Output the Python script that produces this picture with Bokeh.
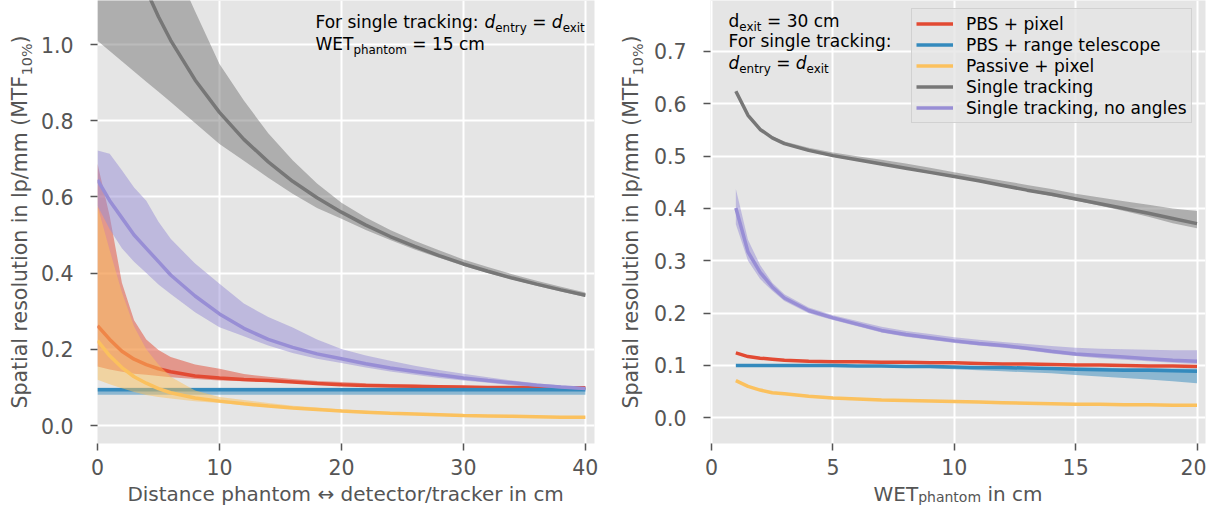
import math
from bokeh.plotting import figure
from bokeh.models import Range1d, FixedTicker, PrintfTickFormatter, Label, Legend, LegendItem
from bokeh.layouts import row, column
from bokeh.embed import file_html
from bokeh.resources import INLINE

# ---------------- data: left panel (distance phantom <-> detector/tracker) ----------------
dist_cm = [0, 1, 2, 3, 4, 5, 6, 8, 10, 12, 14, 16, 18, 20, 22, 24, 26, 28, 30, 32, 34, 36, 38, 40]

L_pbs_pixel = [0.262, 0.226, 0.195, 0.174, 0.160, 0.149, 0.141, 0.130, 0.125, 0.121, 0.118, 0.114,
               0.110, 0.107, 0.105, 0.104, 0.103, 0.102, 0.101, 0.100, 0.100, 0.100, 0.099, 0.099]
L_pbs_pixel_hi = [0.687, 0.550, 0.375, 0.276, 0.226, 0.198, 0.180, 0.160, 0.149, 0.135, 0.128, 0.122,
                  0.117, 0.114, 0.111, 0.109, 0.107, 0.105, 0.104, 0.103, 0.102, 0.102, 0.101, 0.101]
L_pbs_pixel_lo = [0.155, 0.147, 0.141, 0.136, 0.133, 0.130, 0.127, 0.122, 0.118, 0.116, 0.114, 0.112,
                  0.108, 0.105, 0.103, 0.102, 0.101, 0.100, 0.099, 0.098, 0.098, 0.098, 0.097, 0.097]

L_pbs_range = [0.094] * 24
L_pbs_range_hi = [0.099] * 24
L_pbs_range_lo = [0.081] * 24

L_passive = [0.223, 0.183, 0.152, 0.128, 0.111, 0.097, 0.086, 0.072, 0.064, 0.057, 0.051, 0.046,
             0.042, 0.038, 0.035, 0.032, 0.030, 0.028, 0.026, 0.025, 0.024, 0.023, 0.022, 0.022]
L_passive_hi = [0.577, 0.460, 0.350, 0.260, 0.200, 0.160, 0.128, 0.092, 0.075, 0.067, 0.059, 0.052,
                0.047, 0.042, 0.039, 0.035, 0.033, 0.031, 0.028, 0.027, 0.026, 0.025, 0.024, 0.023]
L_passive_lo = [0.120, 0.108, 0.098, 0.088, 0.080, 0.075, 0.071, 0.064, 0.059, 0.054, 0.049, 0.044,
                0.040, 0.036, 0.033, 0.031, 0.029, 0.027, 0.025, 0.024, 0.023, 0.022, 0.021, 0.021]

L_single = [1.546, 1.420, 1.314, 1.222, 1.143, 1.073, 1.011, 0.907, 0.822, 0.751, 0.692, 0.641,
            0.598, 0.560, 0.526, 0.496, 0.470, 0.446, 0.424, 0.405, 0.387, 0.371, 0.356, 0.342]
L_single_hi = [2.050, 1.840, 1.670, 1.530, 1.430, 1.320, 1.230, 1.087, 0.949, 0.853, 0.767, 0.696,
               0.635, 0.585, 0.546, 0.513, 0.485, 0.460, 0.436, 0.416, 0.397, 0.380, 0.364, 0.349]
L_single_lo = [1.010, 0.983, 0.956, 0.929, 0.902, 0.876, 0.849, 0.794, 0.739, 0.695, 0.650, 0.608,
               0.571, 0.543, 0.513, 0.487, 0.462, 0.440, 0.419, 0.400, 0.383, 0.367, 0.352, 0.337]

L_noang = [0.645, 0.590, 0.545, 0.500, 0.465, 0.430, 0.395, 0.340, 0.293, 0.255, 0.226, 0.205,
           0.188, 0.175, 0.162, 0.151, 0.142, 0.133, 0.125, 0.118, 0.112, 0.106, 0.101, 0.097]
L_noang_hi = [0.722, 0.713, 0.670, 0.625, 0.590, 0.535, 0.490, 0.425, 0.372, 0.320, 0.285, 0.257,
              0.226, 0.201, 0.184, 0.170, 0.157, 0.146, 0.136, 0.127, 0.118, 0.111, 0.105, 0.100]
L_noang_lo = [0.577, 0.515, 0.465, 0.430, 0.400, 0.370, 0.345, 0.297, 0.258, 0.234, 0.210, 0.190,
              0.175, 0.164, 0.152, 0.142, 0.133, 0.125, 0.118, 0.112, 0.106, 0.101, 0.097, 0.094]

# ---------------- data: right panel (WET phantom) ----------------
wet_cm = [1, 1.5, 2, 2.5, 3, 4, 5, 6, 7, 8, 9, 10, 11, 12, 13, 14, 15, 16, 17, 18, 19, 20]

R_pbs_pixel = [0.124, 0.117, 0.114, 0.112, 0.110, 0.108, 0.107, 0.107, 0.106, 0.106, 0.105,
               0.105, 0.104, 0.103, 0.103, 0.102, 0.101, 0.101, 0.100, 0.099, 0.099, 0.098]
R_pbs_pixel_hi = [0.125, 0.118, 0.115, 0.113, 0.111, 0.109, 0.108, 0.108, 0.107, 0.107, 0.106,
                  0.106, 0.105, 0.104, 0.104, 0.103, 0.102, 0.102, 0.101, 0.100, 0.100, 0.099]
R_pbs_pixel_lo = [0.123, 0.116, 0.113, 0.111, 0.109, 0.107, 0.106, 0.106, 0.105, 0.105, 0.104,
                  0.104, 0.103, 0.102, 0.102, 0.101, 0.100, 0.100, 0.099, 0.098, 0.098, 0.097]

R_pbs_range = [0.100, 0.100, 0.100, 0.100, 0.100, 0.100, 0.100, 0.099, 0.099, 0.098, 0.098,
               0.097, 0.096, 0.096, 0.095, 0.094, 0.093, 0.092, 0.091, 0.091, 0.090, 0.089]
R_pbs_range_hi = [0.101, 0.101, 0.101, 0.101, 0.101, 0.101, 0.101, 0.100, 0.100, 0.099, 0.099,
                  0.098, 0.098, 0.098, 0.097, 0.097, 0.096, 0.096, 0.095, 0.095, 0.094, 0.094]
R_pbs_range_lo = [0.099, 0.099, 0.099, 0.099, 0.099, 0.099, 0.099, 0.098, 0.098, 0.096, 0.095,
                  0.093, 0.091, 0.089, 0.087, 0.085, 0.082, 0.079, 0.076, 0.073, 0.070, 0.066]

R_passive = [0.071, 0.060, 0.053, 0.048, 0.046, 0.041, 0.038, 0.036, 0.034, 0.033, 0.032,
             0.031, 0.030, 0.029, 0.028, 0.027, 0.026, 0.026, 0.025, 0.025, 0.024, 0.024]
R_passive_hi = [0.072, 0.061, 0.054, 0.049, 0.047, 0.042, 0.039, 0.037, 0.035, 0.034, 0.033,
                0.032, 0.031, 0.030, 0.029, 0.028, 0.027, 0.027, 0.026, 0.026, 0.025, 0.025]
R_passive_lo = [0.070, 0.059, 0.052, 0.047, 0.045, 0.040, 0.037, 0.035, 0.033, 0.032, 0.031,
                0.030, 0.029, 0.028, 0.027, 0.026, 0.025, 0.025, 0.024, 0.024, 0.023, 0.023]

R_single = [0.624, 0.578, 0.551, 0.535, 0.524, 0.511, 0.501, 0.493, 0.485, 0.477, 0.469,
            0.461, 0.453, 0.444, 0.435, 0.427, 0.418, 0.409, 0.400, 0.391, 0.381, 0.371]
R_single_hi = [0.626, 0.580, 0.553, 0.538, 0.528, 0.516, 0.507, 0.500, 0.493, 0.486, 0.478,
               0.469, 0.461, 0.453, 0.445, 0.437, 0.428, 0.421, 0.414, 0.407, 0.400, 0.395]
R_single_lo = [0.622, 0.576, 0.549, 0.533, 0.522, 0.509, 0.499, 0.491, 0.483, 0.475, 0.467,
               0.459, 0.451, 0.442, 0.433, 0.424, 0.415, 0.405, 0.395, 0.384, 0.372, 0.362]

R_noang = [0.401, 0.317, 0.278, 0.250, 0.229, 0.205, 0.191, 0.179, 0.167, 0.159, 0.153,
           0.147, 0.142, 0.138, 0.133, 0.127, 0.122, 0.119, 0.116, 0.113, 0.110, 0.108]
R_noang_hi = [0.437, 0.340, 0.292, 0.258, 0.236, 0.211, 0.196, 0.185, 0.174, 0.166, 0.160,
              0.154, 0.149, 0.145, 0.141, 0.137, 0.134, 0.132, 0.131, 0.130, 0.129, 0.129]
R_noang_lo = [0.370, 0.300, 0.265, 0.243, 0.223, 0.200, 0.187, 0.175, 0.163, 0.155, 0.149,
              0.143, 0.138, 0.134, 0.129, 0.123, 0.118, 0.114, 0.111, 0.108, 0.105, 0.103]

series_names = ["PBS + pixel", "PBS + range telescope", "Passive + pixel",
                "Single tracking", "Single tracking, no angles"]
series_colors = ["#E24A33", "#348ABD", "#FBC15E", "#777777", "#988ED5"]

left_x_ticks = [0, 10, 20, 30, 40]
left_y_ticks = [0.0, 0.2, 0.4, 0.6, 0.8, 1.0]
right_x_ticks = [0, 5, 10, 15, 20]
right_y_ticks = [0.0, 0.1, 0.2, 0.3, 0.4, 0.5, 0.6, 0.7]

# ---------------- text helpers (DejaVu Sans advance widths, em) ----------------
CW = {' ': .318, '.': .318, ',': .318, ':': .337, '/': .337, '(': .390, ')': .390, '%': .950,
      '+': .838, '=': .838, '\u2194': .838,
      'a': .613, 'b': .635, 'c': .550, 'd': .635, 'e': .615, 'f': .352, 'g': .635, 'h': .634,
      'i': .278, 'j': .278, 'k': .579, 'l': .278, 'm': .974, 'n': .634, 'o': .612, 'p': .635,
      'q': .635, 'r': .411, 's': .521, 't': .392, 'u': .634, 'v': .592, 'w': .818, 'x': .592,
      'y': .592, 'z': .525,
      'A': .684, 'B': .686, 'C': .698, 'D': .770, 'E': .632, 'F': .575, 'M': .863, 'P': .603,
      'S': .635, 'T': .611, 'W': .989}
for dch in "0123456789":
    CW[dch] = .636
FONT = "DejaVu Sans"
AXC = "#555555"
BASE_FIX = 0.38   # compensation of the renderer's baseline placement (fraction of font size)


def tw(s, size):
    return sum(CW.get(c, 0.6) for c in s) * size


def rich(p, x0, y0, runs, color, angle=0.0, center=False):
    total = sum(tw(t, s) for t, s, _, _ in runs)
    pos = -total / 2 if center else 0.0
    for t, s, it, dy in runs:
        lead = len(t) - len(t.lstrip())
        core = t.strip()
        tpos = pos + lead * CW[' '] * s
        c = BASE_FIX * s
        if angle == 0:
            lx, ly = x0 + tpos, y0 + dy + c
        else:
            lx, ly = x0 - dy - c, y0 + tpos
        p.add_layout(Label(x=lx, y=ly, x_units="screen", y_units="screen", text=core,
                           text_font=FONT, text_font_size=f"{s}px",
                           text_font_style="italic" if it else "normal",
                           text_color=color, text_align="left", text_baseline="alphabetic",
                           angle=angle))
        pos += tw(t, s)


def helper(w, h):
    f = figure(width=w, height=h, x_range=Range1d(0, w), y_range=Range1d(0, h),
               output_backend="svg", toolbar_location=None, min_border=0,
               x_axis_type=None, y_axis_type=None, frame_align=False)
    f.outline_line_color = None
    f.background_fill_color = "white"
    f.border_fill_color = "white"
    return f


MAIN_H = 482
XL_H = 24
TOTAL_H = MAIN_H + XL_H


def make_fig(width, mbl, mbr, xr, yr, xt, yt):
    p = figure(width=width, height=MAIN_H, x_range=xr, y_range=yr, output_backend="svg",
               toolbar_location=None, min_border_left=mbl, min_border_right=mbr,
               min_border_top=0, min_border_bottom=MAIN_H - 443, frame_align=False)
    p.background_fill_color = "#E5E5E5"
    p.border_fill_color = "white"
    p.outline_line_color = None
    p.xaxis.ticker = FixedTicker(ticks=xt, minor_ticks=[])
    p.yaxis.ticker = FixedTicker(ticks=yt, minor_ticks=[])
    p.xaxis.formatter = PrintfTickFormatter(format="%d")
    p.yaxis.formatter = PrintfTickFormatter(format="%.1f")
    p.grid.grid_line_color = "white"
    p.grid.grid_line_width = 2
    p.axis.axis_line_color = None
    p.axis.major_tick_line_color = AXC
    p.axis.major_tick_line_width = 1.5
    p.axis.major_tick_in = 0
    p.axis.major_tick_out = 7
    p.axis.minor_tick_line_color = None
    p.axis.major_label_text_color = AXC
    p.axis.major_label_text_font = FONT
    p.axis.major_label_text_font_size = "20.5px"
    p.xaxis.major_label_standoff = 8
    p.yaxis.major_label_standoff = 17
    return p


def draw(p, x, sets):
    rends = []
    for (mid, hi, lo), col in zip(sets, series_colors):
        p.varea(x=x, y1=lo, y2=hi, fill_color=col, fill_alpha=0.5)
        r = p.line(x=x, y=mid, line_color=col, line_width=3.5)
        rends.append(r)
    return rends


SUB = 11.9
YLAB = [("Spatial resolution in lp/mm (MTF", 20.5, False, 0),
        ("10%", 14.35, False, -4.5), (")", 20.5, False, 0)]

# ---------------- left panel ----------------
yl1 = helper(34, TOTAL_H)
rich(yl1, 27, TOTAL_H - 221.5, YLAB, AXC, angle=math.pi / 2, center=True)

p1 = make_fig(576, 63, 16, Range1d(0, 40.75), Range1d(-0.0472, 1.1155), left_x_ticks, left_y_ticks)
draw(p1, dist_cm, [(L_pbs_pixel, L_pbs_pixel_hi, L_pbs_pixel_lo),
                   (L_pbs_range, L_pbs_range_hi, L_pbs_range_lo),
                   (L_passive, L_passive_hi, L_passive_lo),
                   (L_single, L_single_hi, L_single_lo),
                   (L_noang, L_noang_hi, L_noang_lo)])
rich(p1, 218, 415.3, [("For single tracking: ", 17, False, 0), ("d", 17, True, 0),
                      ("entry", SUB, False, -4), (" = ", 17, False, 0), ("d", 17, True, 0),
                      ("exit", SUB, False, -4)], "black")
rich(p1, 218, 393, [("WET", 17, False, 0), ("phantom", SUB, False, -4),
                    (" = 15 cm", 17, False, 0)], "black")

xl1 = helper(576, XL_H)
rich(xl1, 311.5, 5, [("Distance phantom \u2194 detector/tracker in cm", 20, False, 0)],
     AXC, center=True)

# ---------------- right panel ----------------
yl2 = helper(36, TOTAL_H)
rich(yl2, 28, TOTAL_H - 221.5, YLAB, AXC, angle=math.pi / 2, center=True)

p2 = make_fig(560, 64, 1, Range1d(-0.045, 20.35), Range1d(-0.0491, 0.7974), right_x_ticks, right_y_ticks)
rends = draw(p2, wet_cm, [(R_pbs_pixel, R_pbs_pixel_hi, R_pbs_pixel_lo),
                          (R_pbs_range, R_pbs_range_hi, R_pbs_range_lo),
                          (R_passive, R_passive_hi, R_passive_lo),
                          (R_single, R_single_hi, R_single_lo),
                          (R_noang, R_noang_hi, R_noang_lo)])
rich(p2, 18, 415.7, [("d", 17, False, 0), ("exit", SUB, False, -4), (" = 30 cm", 17, False, 0)], "black")
rich(p2, 18, 395.7, [("For single tracking:", 17, False, 0)], "black")
rich(p2, 18, 373.7, [("d", 17, True, 0), ("entry", SUB, False, -4), (" = ", 17, False, 0),
                     ("d", 17, True, 0), ("exit", SUB, False, -4)], "black")

legend = Legend(items=[LegendItem(label=n, renderers=[r]) for n, r in zip(series_names, rends)],
                location=(201, 320), label_text_font=FONT, label_text_font_size="17px",
                label_text_color="black", glyph_width=37, glyph_height=21, label_height=21,
                label_standoff=13, padding=4, spacing=0, margin=0,
                background_fill_color="#E5E5E5", background_fill_alpha=0.8,
                border_line_color="#CCCCCC", border_line_alpha=0.8, border_line_width=1)
p2.add_layout(legend)

xl2 = helper(560, XL_H)
rich(xl2, 311.5, 5, [("WET", 20, False, 0), ("phantom", 14, False, -1.3),
                     (" in cm", 20, False, 0)], AXC, center=True)

layout = row(yl1, column(p1, xl1), yl2, column(p2, xl2))
open("out.html", "w").write(file_html(layout, INLINE))
